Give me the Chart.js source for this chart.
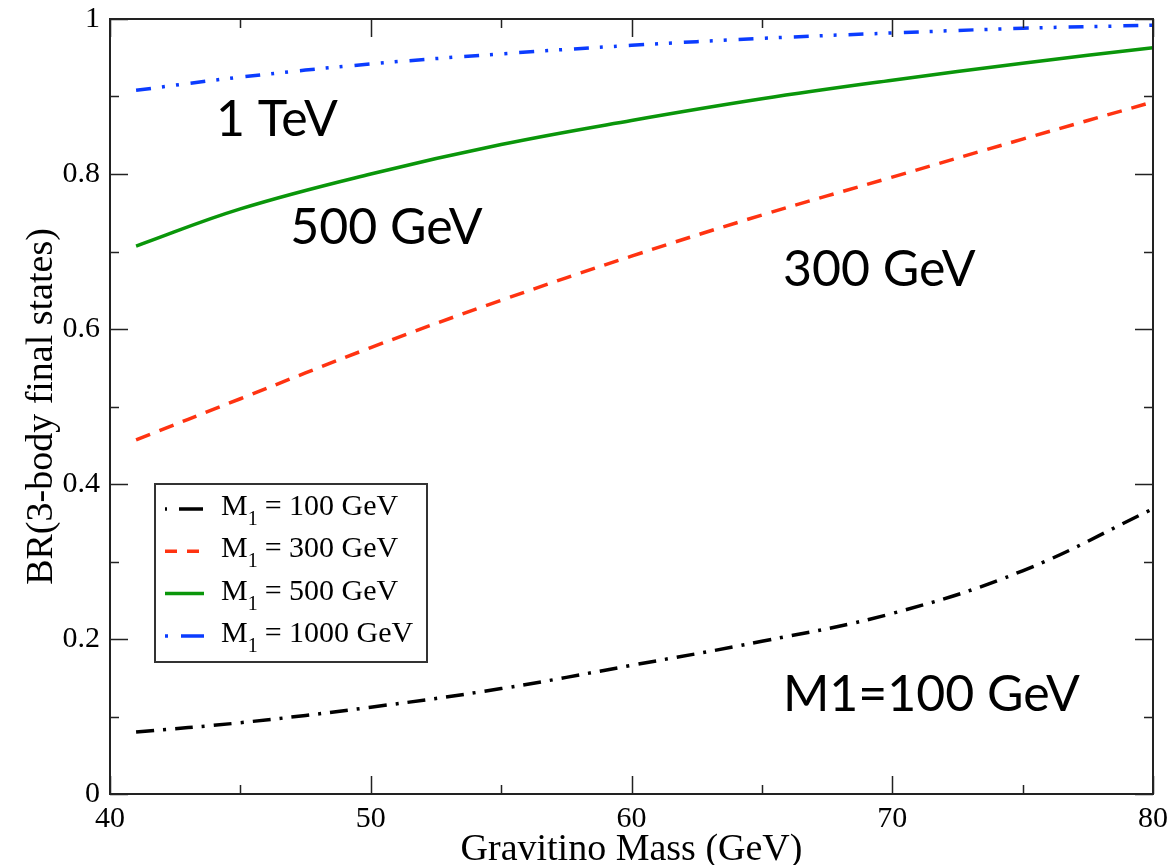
<!DOCTYPE html>
<html>
<head>
<meta charset="utf-8">
<script src="https://cdn.jsdelivr.net/npm/chart.js@4.4.0/dist/chart.umd.min.js"></script>
<style>
  body { margin: 0; background: #fff; }
  canvas { display: block; }
</style>
</head>
<body>
<canvas id="chart" width="1171" height="865"></canvas>
<script>
// gravitino mass (GeV) and 3-body branching ratio for each bino mass M1
const gravitinoMass = [41, 45, 50, 55, 60, 65, 70, 75, 80];
const br100  = [0.080, 0.092, 0.112, 0.136, 0.166, 0.197, 0.233, 0.288, 0.368];
const br300  = [0.457, 0.510, 0.576, 0.637, 0.694, 0.747, 0.796, 0.845, 0.893];
const br500  = [0.707, 0.755, 0.800, 0.838, 0.869, 0.897, 0.921, 0.943, 0.963];
const br1000 = [0.908, 0.925, 0.942, 0.955, 0.966, 0.975, 0.982, 0.988, 0.992];
const binoMasses = ['100', '300', '500', '1000'];

const serif = '"Liberation Serif", "Times New Roman", serif';
const sans = 'Lato, "Open Sans", sans-serif';

const toPoints = ys => ys.map((y, i) => ({ x: gravitinoMass[i], y: y }));

const series = [
  { data: br100,  color: '#000000', dash: [18, 9, 3, 9],            key: [2, 12, 22, 0] },
  { data: br300,  color: '#ff3311', dash: [15, 10],                 key: [12, 10] },
  { data: br500,  color: '#0a960a', dash: [],                       key: [] },
  { data: br1000, color: '#0b3cff', dash: [15, 11, 3, 11, 3, 12],   key: [3, 13, 22, 0] }
];

// text written next to the curves, placed in data units
const curveNotes = [
  { text: '1 TeV', x: 46.4, y: 0.870 },
  { text: '500 GeV', x: 50.6, y: 0.730 },
  { text: '300 GeV', x: 69.5, y: 0.676 },
  { text: 'M1=100 GeV', x: 71.5, y: 0.128 }
];

// xmgrace-style frame with inward major/minor ticks on all four sides
const frameTicks = {
  id: 'frameTicks',
  afterDatasetsDraw(chart) {
    const { ctx, chartArea: a, scales: { x, y } } = chart;
    ctx.save();
    ctx.strokeStyle = '#222';
    ctx.lineWidth = 1.5;
    ctx.beginPath();
    for (let v = 40; v <= 80; v += 5) {
      const len = v % 10 === 0 ? 18 : 9;
      const px = Math.round(x.getPixelForValue(v)) + 0.5;
      ctx.moveTo(px, a.bottom); ctx.lineTo(px, a.bottom - len);
      ctx.moveTo(px, a.top); ctx.lineTo(px, a.top + len);
    }
    for (let i = 0; i <= 10; i++) {
      const len = i % 2 === 0 ? 18 : 9;
      const py = Math.round(y.getPixelForValue(i / 10)) + 0.5;
      ctx.moveTo(a.left, py); ctx.lineTo(a.left + len, py);
      ctx.moveTo(a.right, py); ctx.lineTo(a.right - len, py);
    }
    ctx.stroke();
    ctx.lineWidth = 2;
    ctx.strokeRect(a.left, a.top, a.right - a.left, a.bottom - a.top);
    ctx.restore();
  }
};

// curve captions
const notes = {
  id: 'notes',
  afterDatasetsDraw(chart) {
    const { ctx, scales: { x, y } } = chart;
    ctx.save();
    ctx.fillStyle = '#000';
    ctx.font = '50px ' + sans;
    ctx.textAlign = 'center';
    ctx.textBaseline = 'middle';
    curveNotes.forEach(n => {
      ctx.fillText(n.text, x.getPixelForValue(n.x), y.getPixelForValue(n.y));
    });
    ctx.restore();
  }
};

// boxed legend with subscripted M1
const boxLegend = {
  id: 'boxLegend',
  afterDraw(chart) {
    const { ctx } = chart;
    const left = 155, top = 484, w = 272, h = 178;
    ctx.save();
    ctx.fillStyle = '#fff';
    ctx.fillRect(left, top, w, h);
    ctx.strokeStyle = '#333';
    ctx.lineWidth = 2;
    ctx.strokeRect(left, top, w, h);
    chart.data.datasets.forEach((ds, i) => {
      const rowY = 509 + i * 42.3;
      ctx.strokeStyle = ds.borderColor;
      ctx.lineWidth = 3.5;
      ctx.setLineDash(series[i].key);
      ctx.beginPath();
      ctx.moveTo(165, rowY);
      ctx.lineTo(204, rowY);
      ctx.stroke();
      ctx.setLineDash([]);
      ctx.fillStyle = '#000';
      ctx.textBaseline = 'alphabetic';
      ctx.textAlign = 'left';
      ctx.font = '30px ' + serif;
      let tx = 221;
      ctx.fillText('M', tx, rowY + 6);
      tx += ctx.measureText('M').width;
      ctx.font = '20px ' + serif;
      ctx.fillText('1', tx, rowY + 16);
      tx += ctx.measureText('1').width + 7;
      ctx.font = '30px ' + serif;
      ctx.fillText('= ' + binoMasses[i] + ' GeV', tx, rowY + 6);
    });
    ctx.restore();
  }
};

// keep the plot frame exactly where the layout padding puts it
const noLabelPadding = scale => {
  scale.paddingTop = 0;
  scale.paddingBottom = 0;
  scale.paddingLeft = 0;
  scale.paddingRight = 0;
};

new Chart(document.getElementById('chart'), {
  type: 'line',
  data: {
    datasets: series.map((s, i) => ({
      label: 'M1 = ' + binoMasses[i] + ' GeV',
      data: toPoints(s.data),
      borderColor: s.color,
      borderDash: s.dash,
      borderWidth: 3.5,
      pointRadius: 0,
      fill: false,
      tension: 0.4
    }))
  },
  options: {
    responsive: false,
    animation: false,
    devicePixelRatio: 1,
    layout: {
      padding: { top: 19, right: 18, left: 0, bottom: 0 }
    },
    plugins: {
      legend: { display: false },
      tooltip: { enabled: false }
    },
    scales: {
      x: {
        type: 'linear',
        min: 40,
        max: 80,
        afterFit: scale => { scale.height = 71; noLabelPadding(scale); },
        grid: { display: false, drawTicks: false },
        border: { display: false },
        ticks: {
          stepSize: 10,
          padding: 7,
          color: '#000',
          font: { family: serif, size: 30 }
        },
        title: {
          display: true,
          text: 'Gravitino Mass (GeV)',
          color: '#000',
          font: { family: serif, size: 38, lineHeight: 0.7 },
          padding: { top: 0, bottom: 2 }
        }
      },
      y: {
        min: 0,
        max: 1,
        afterFit: scale => { scale.width = 110; noLabelPadding(scale); },
        grid: { display: false, drawTicks: false },
        border: { display: false },
        ticks: {
          stepSize: 0.2,
          padding: 10,
          color: '#000',
          font: { family: serif, size: 30 },
          callback: v => String(Math.round(v * 10) / 10)
        },
        title: {
          display: true,
          text: 'BR(3-body final states)',
          color: '#000',
          font: { family: serif, size: 38, lineHeight: 0.8 },
          padding: { top: 27, bottom: 0 }
        }
      }
    }
  },
  plugins: [frameTicks, notes, boxLegend]
});
</script>
</body>
</html>
